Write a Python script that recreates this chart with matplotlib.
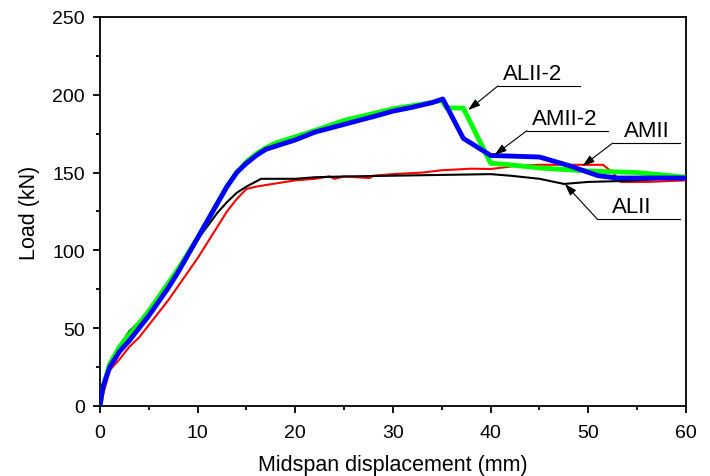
import matplotlib.pyplot as plt
from matplotlib.ticker import MultipleLocator

plt.rcParams['font.family'] = ['Liberation Sans', 'DejaVu Sans']

# ALII-2 (green)
alii2_x = [0, 0.3, 1, 2, 3, 4, 5, 6, 7, 8, 9, 10, 11, 12, 13, 14, 15, 16, 17, 18,
           20, 22, 25, 28, 30, 32, 34, 35, 35.5, 37.2, 40, 42, 45, 50, 55, 60]
alii2_y = [0, 12, 27, 38, 46, 53, 61, 70, 79, 88, 98, 108, 119, 130, 141, 150, 157, 162, 166, 169,
           173, 177, 183.5, 188, 191, 193, 195, 196.5, 191.5, 191.5, 156, 155, 153, 151, 150, 147]

# AMII-2 (blue)
amii2_x = [0, 0.3, 1, 2, 3, 4, 5, 6, 7, 8, 9, 10, 11, 12, 13, 14, 15, 16, 17, 18,
           20, 22, 25, 28, 30, 32, 34, 35.1, 37.2, 40, 45, 48, 51, 53, 60]
amii2_y = [0, 12, 25, 35, 42, 50, 58, 67, 76, 86, 97, 108, 119, 130, 141, 150, 156, 161, 165, 167,
           171, 176, 181, 186, 189.5, 192, 195, 197.3, 172, 161, 160, 154.5, 148, 146.5, 146.5]

# AMII (red)
amii_x = [0, 1, 2, 3, 4, 5, 6, 7, 8, 9, 10, 11, 12, 13, 14, 15, 16, 17, 18, 20, 22,
          23.5, 24, 25, 27.6, 28, 30, 33, 35, 38, 40, 42.7, 45, 51.5, 52.5, 53.3, 56, 60]
amii_y = [0, 23, 30, 38, 44, 52, 60, 68, 77, 86, 95, 105, 115, 125, 133, 139.5, 141, 142, 143, 145, 146,
          147.6, 146, 147.5, 146.5, 148, 149, 150, 151.5, 152.5, 152.3, 154.4, 155, 155, 150, 144, 144, 145]

# ALII (black)
alii_x = [0, 1, 2, 3, 4, 5, 7, 10, 12, 13, 14, 15, 16.5, 20, 22, 25, 30, 35, 40, 42, 45,
          47.5, 50, 53, 55, 60]
alii_y = [0, 27, 38, 48, 54, 59, 77, 107, 124, 131, 137, 141, 146, 146, 147, 147.5, 148, 148.5, 149, 148, 146,
          142.7, 144, 144.5, 145, 147]

# annotation labels: (text, arrow head, underline x-range, underline y, text centre x)
labels = ['ALII-2', 'AMII-2', 'AMII', 'ALII']
heads = [(37.7, 190.2), (40.4, 161.3), (49.4, 154.2), (47.6, 142.7)]
under_x = [(40.75, 49.1), (43.7, 52.0), (52.5, 59.4), (50.9, 59.4)]
under_y = [205.7, 176.9, 169.0, 120.2]
text_x = [44.3, 47.6, 56.0, 54.4]

fig = plt.figure(figsize=(7.1, 4.77), dpi=100)
ax = fig.add_axes([0.1408, 0.1468, 0.8254, 0.8155])

ax.plot(amii_x, amii_y, color='#ff0000', lw=1.5, zorder=3)
ax.plot(alii_x, alii_y, color='black', lw=1.5, zorder=3)
ax.plot(alii2_x, alii2_y, color='#00ff00', lw=3.5, zorder=4)
ax.plot(amii2_x, amii2_y, color='#0000ff', lw=3.5, zorder=5)

for lab, hd, ux, uy, tx in zip(labels, heads, under_x, under_y, text_x):
    ax.plot(ux, [uy, uy], color='black', lw=0.8, zorder=6)
    ax.annotate('', xy=hd, xytext=(ux[0], uy),
                arrowprops=dict(arrowstyle='-|>,head_length=0.6,head_width=0.2',
                                color='black', lw=0.8,
                                mutation_scale=12, shrinkA=0, shrinkB=0), zorder=6)
    ax.text(tx, uy + 1.0, lab, ha='center', va='bottom', fontsize=16, zorder=6)

ax.set_xlim(0, 60)
ax.set_ylim(0, 250)
ax.xaxis.set_major_locator(MultipleLocator(10))
ax.xaxis.set_minor_locator(MultipleLocator(5))
ax.yaxis.set_major_locator(MultipleLocator(50))
ax.yaxis.set_minor_locator(MultipleLocator(25))
ax.tick_params(which='major', direction='out', length=5, width=1.3, labelsize=14)
ax.tick_params(axis='x', which='major', pad=8)
ax.tick_params(axis='y', which='major', pad=6)
ax.tick_params(which='minor', direction='out', length=3, width=1.3)
for s in ax.spines.values():
    s.set_linewidth(1.3)

ax.set_xlabel('Midspan displacement (mm)', fontsize=15.5, labelpad=9)
ax.set_ylabel('Load (kN)', fontsize=15.5, labelpad=9)

fig.savefig('out.png', dpi=100)
